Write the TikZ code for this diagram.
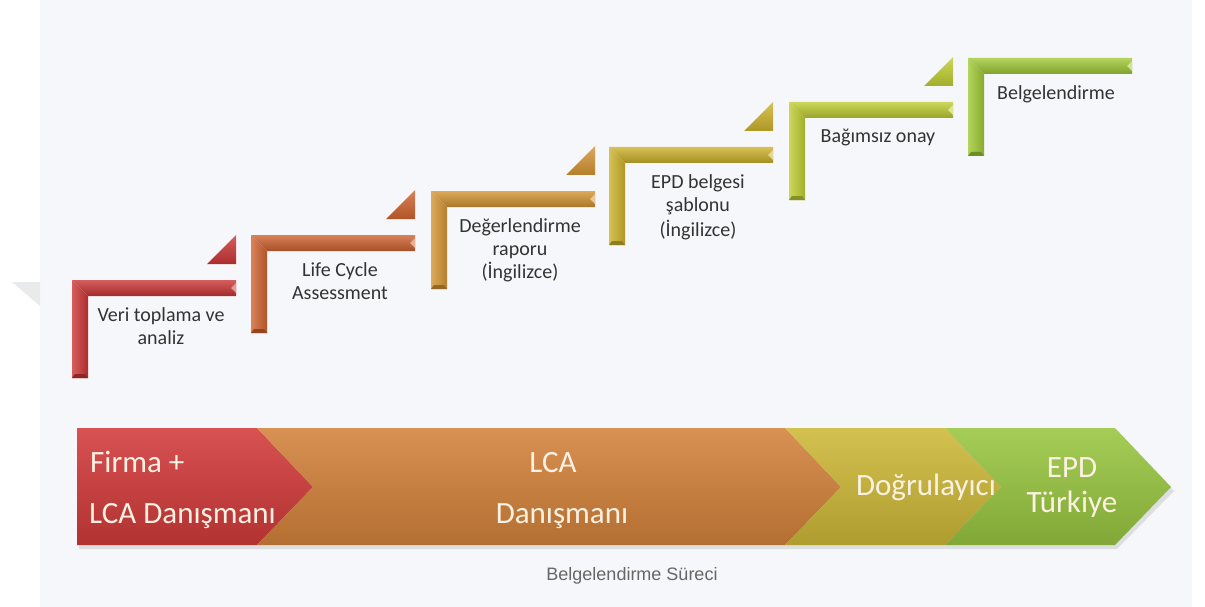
\documentclass[tikz,border=0pt]{standalone}
\usepackage{fontspec}
\setmainfont{Carlito}
\newfontfamily\captionfont{Liberation Sans}

\definecolor{panel}{HTML}{F5F7FA}
\definecolor{ghost}{HTML}{E9EAEC}
\definecolor{textgray}{HTML}{333333}
\definecolor{captiongray}{HTML}{666666}
\definecolor{bandcream}{HTML}{FCF1E2}
\definecolor{stepred}{HTML}{CC3535}
\definecolor{steporange}{HTML}{D0622F}
\definecolor{stepamber}{HTML}{D49432}
\definecolor{stepgold}{HTML}{CDB22A}
\definecolor{steplime}{HTML}{BFCD32}
\definecolor{stepgreen}{HTML}{A0C935}
\definecolor{bandred}{HTML}{D23A3A}
\definecolor{bandorange}{HTML}{D3823A}
\definecolor{bandyellow}{HTML}{CDB838}
\definecolor{bandgreen}{HTML}{98C640}

\begin{document}
\begin{tikzpicture}[
x=1pt, y=-1pt,
steptext/.style={font=\fontsize{20}{23}\selectfont, text=textgray, align=center, anchor=north, inner sep=0pt},
bandtext/.style={font=\fontsize{31}{36}\selectfont, text=bandcream, inner sep=0pt, anchor=base},
% one stair step, origin at its top left corner
pics/stair/.style={code={
	\shade[top color=#1!80!white, middle color=#1, bottom color=#1!80!black] (0,0) -- (164,0) -- (164,16) -- (16,16) -- cycle;
	\shade[left color=#1!80!white, middle color=#1, right color=#1!85!black] (0,0) -- (16,16) -- (16,98) -- (0,98) -- cycle;
	\fill[#1!50!white] (164,3) -- (159,8) -- (164,13) -- cycle;
	\fill[#1!70!black] (0,98) -- (3,94) -- (13,94) -- (16,98) -- cycle;
}},
% small wedge above the right end of a step
pics/wedge/.style={code={
	\shade[top color=#1!80!white, bottom color=#1!85!black] (-29,-16) -- (0,-45) -- (0,-16) -- cycle;
}},
shadowband/.style={fill=black!30, opacity=0.35}
]

\useasboundingbox (0,0) rectangle (1205,607);
\fill[white] (0,0) rectangle (1205,607);
\fill[panel] (40,0) rectangle (1192,607);
\fill[ghost] (12,282) -- (40,282) -- (40,306) -- cycle;

% stairs
\pic at (72,280) {stair=stepred};
\pic at (251,235) {stair=steporange};
\pic at (431,191) {stair=stepamber};
\pic at (609,147) {stair=stepgold};
\pic at (789,102) {stair=steplime};
\pic at (968,58) {stair=stepgreen};

\pic at (236,280) {wedge=stepred};
\pic at (415,235) {wedge=steporange};
\pic at (595,191) {wedge=stepamber};
\pic at (773,147) {wedge=stepgold};
\pic at (953,102) {wedge=steplime};

\node[steptext] (veri) at (161,307) {Veri toplama ve\\analiz};
\node[steptext] (lifecycle) at (340,262) {Life Cycle\\Assessment};
\node[steptext] (rapor) at (520,218) {Değerlendirme\\raporu\\(İngilizce)};
\node[steptext] (sablon) at (698,174) {EPD belgesi\\şablonu\\[2pt](İngilizce)};
\node[steptext] (onay) at (878,129) {Bağımsız onay};
\node[steptext] (belge) at (1056,85) {Belgelendirme};

% bottom band
\fill[shadowband] (79,431) -- (1117,431) -- (1174,491) -- (1117,549) -- (79,549) -- cycle;
\shade[top color=bandred!88!white, middle color=bandred, bottom color=bandred!85!black]
	(77,428) -- (257,428) -- (313,487) -- (257,545) -- (77,545) -- cycle;
\shade[top color=bandorange!88!white, middle color=bandorange, bottom color=bandorange!85!black]
	(257,428) -- (785,428) -- (841,487) -- (785,545) -- (257,545) -- (313,487) -- cycle;
\shade[top color=bandyellow!88!white, middle color=bandyellow, bottom color=bandyellow!85!black]
	(785,428) -- (945,428) -- (1001,487) -- (945,545) -- (785,545) -- (841,487) -- cycle;
\shade[top color=bandgreen!88!white, middle color=bandgreen, bottom color=bandgreen!85!black]
	(945,428) -- (1115,428) -- (1171,487) -- (1115,545) -- (945,545) -- (1001,487) -- cycle;

\node[bandtext, anchor=base west] (firma) at (90,472) {Firma +};
\node[bandtext, anchor=base west] (firmalca) at (89,523) {LCA Danışmanı};
\node[bandtext] (lca) at (553,472) {LCA};
\node[bandtext] (danisman) at (562,523) {Danışmanı};
\node[bandtext] (dogrulayici) at (926,495) {Doğrulayıcı};
\node[bandtext] (epd) at (1072,477) {EPD};
\node[bandtext] (turkiye) at (1072,512) {Türkiye};

\node[font=\captionfont\fontsize{18}{22}\selectfont, text=captiongray] (caption) at (632,576) {Belgelendirme Süreci};
\end{tikzpicture}
\end{document}
